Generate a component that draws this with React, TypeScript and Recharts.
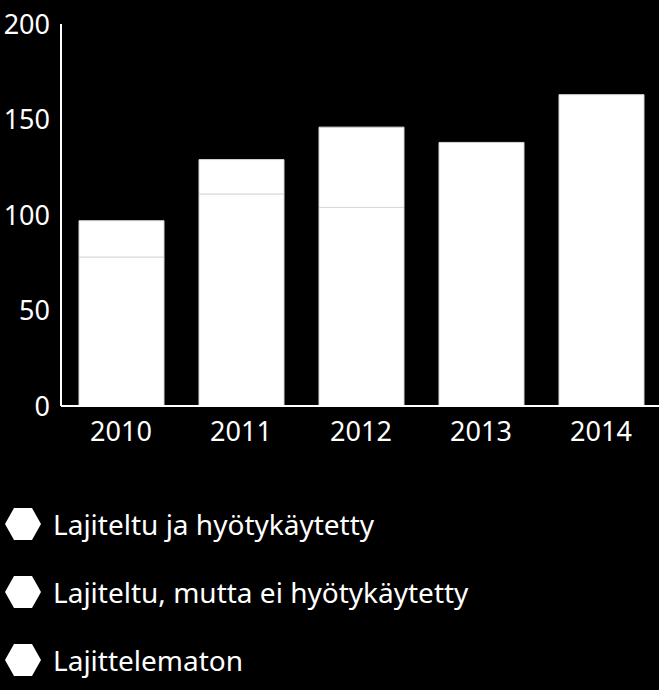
import React from 'react';
import { BarChart, Bar, XAxis, YAxis, Legend } from 'recharts';

const years = ['2010', '2011', '2012', '2013', '2014'];
const sortedUsed = [78, 111, 104, 138, 163];
const sortedNotUsed = [19, 18, 42, null, null];
const unsorted = [null, null, null, null, null];
const yTicks = [0, 50, 100, 150, 200];

const seriesNames = [
  'Lajiteltu ja hyötykäytetty',
  'Lajiteltu, mutta ei hyötykäytetty',
  'Lajittelematon',
];

const chartData = years.map((year, i) => ({
  year,
  used: sortedUsed[i],
  notUsed: sortedNotUsed[i],
  unsorted: unsorted[i],
}));

const FONT = '"Noto Sans", sans-serif';

function Hexagon() {
  return (
    <svg width={40} height={34} style={{ display: 'block' }}>
      <polygon points="3,17 12,1 30,1 39,17 30,33 12,33" fill="#fff" />
    </svg>
  );
}

function LegendBox() {
  return (
    <div style={{ height: 200, fontFamily: FONT }}>
      {seriesNames.map((name) => (
        <div
          key={name}
          style={{ height: 68, display: 'flex', alignItems: 'center' }}
        >
          <div style={{ width: 51, paddingLeft: 2 }}>
            <Hexagon />
          </div>
          <span style={{ color: '#fff', fontSize: 28, lineHeight: 1 }}>{name}</span>
        </div>
      ))}
    </div>
  );
}

export default function App() {
  return (
    <div
      style={{
        position: 'fixed',
        left: 0,
        top: 0,
        width: 659,
        height: 690,
        background: '#000',
        overflow: 'hidden',
      }}
    >
      <BarChart
        width={659}
        height={690}
        data={chartData}
        margin={{ top: 24, right: -2, left: 0, bottom: 0 }}
        barSize={85}
      >
        <XAxis
          dataKey="year"
          axisLine={{ stroke: '#fff', strokeWidth: 2 }}
          tickLine={false}
          tickSize={0}
          tickMargin={16}
          height={84}
          tick={{ fill: '#fff', fontSize: 27, fontFamily: FONT }}
        />
        <YAxis
          domain={[0, 200]}
          ticks={yTicks}
          width={61}
          axisLine={{ stroke: '#fff', strokeWidth: 2 }}
          tickLine={false}
          tickSize={0}
          tickMargin={11}
          tick={{ fill: '#fff', fontSize: 27, fontFamily: FONT }}
        />
        <Legend verticalAlign="bottom" align="left" content={() => <LegendBox />} />
        <Bar dataKey="used" stackId="a" fill="#fff" stroke="#d8d8d8" strokeWidth={1} isAnimationActive={false} />
        <Bar dataKey="notUsed" stackId="a" fill="#fff" stroke="#d8d8d8" strokeWidth={1} isAnimationActive={false} />
        <Bar dataKey="unsorted" stackId="a" fill="#fff" stroke="#d8d8d8" strokeWidth={1} isAnimationActive={false} />
      </BarChart>
    </div>
  );
}
